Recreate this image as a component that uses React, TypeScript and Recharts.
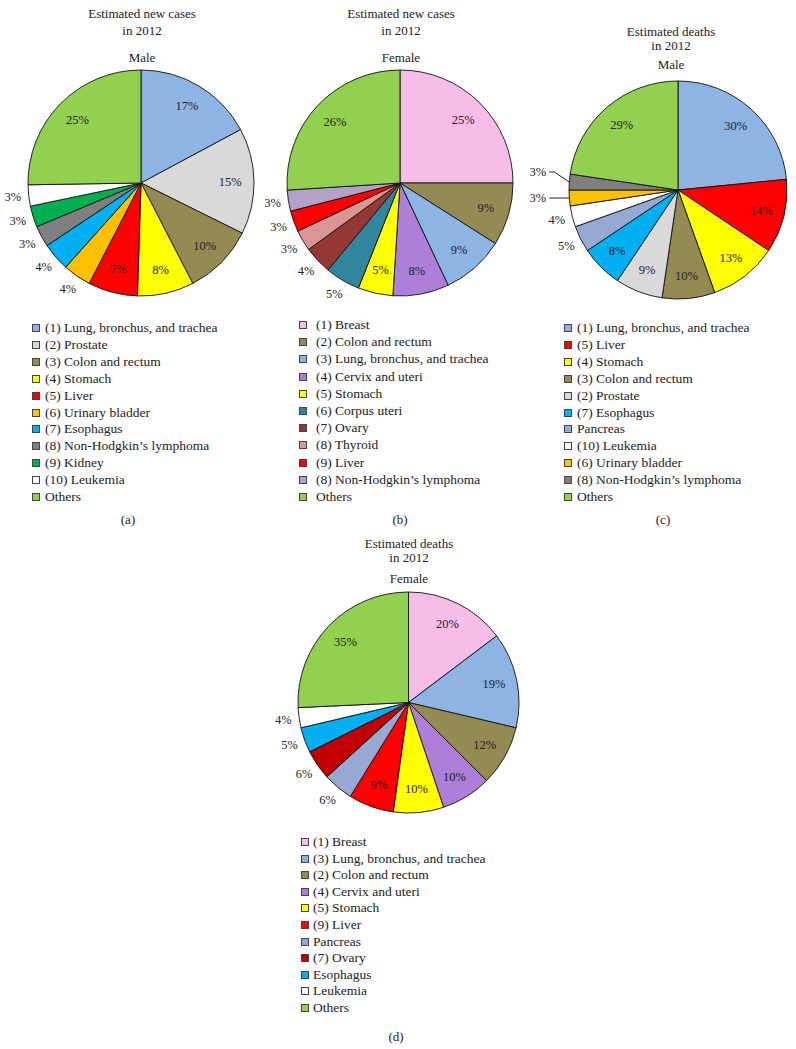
import React from 'react';
import { PieChart, Pie, Cell } from 'recharts';

const FONT = '"Liberation Serif", "DejaVu Serif", serif';

// (a) Estimated new cases in 2012, Male
const aNames = ['(1) Lung, bronchus, and trachea', '(2) Prostate', '(3) Colon and rectum', '(4) Stomach', '(5) Liver', '(6) Urinary bladder', '(7) Esophagus', '(8) Non-Hodgkin\u2019s lymphoma', '(9) Kidney', '(10) Leukemia', 'Others'];
const aValues = [17, 15, 10, 8, 7, 4, 4, 3, 3, 3, 25];
const aColors = ['#8EB4E3', '#D9D9D9', '#948A54', '#FFFF00', '#FF0000', '#FFC000', '#00B0F0', '#7F7F7F', '#00B050', '#FFFFFF', '#92D050'];

// (b) Estimated new cases in 2012, Female
const bNames = ['(1) Breast', '(2) Colon and rectum', '(3) Lung, bronchus, and trachea', '(4) Cervix and uteri', '(5) Stomach', '(6) Corpus uteri', '(7) Ovary', '(8) Thyroid', '(9) Liver', '(8) Non-Hodgkin\u2019s lymphoma', 'Others'];
const bValues = [25, 9, 9, 8, 5, 5, 4, 3, 3, 3, 26];
const bColors = ['#F6BDE8', '#948A54', '#8EB4E3', '#AD7FD8', '#FFFF00', '#31859C', '#953735', '#D99694', '#FF0000', '#B3A2C7', '#92D050'];

// (c) Estimated deaths in 2012, Male
const cNames = ['(1) Lung, bronchus, and trachea', '(5) Liver', '(4) Stomach', '(3) Colon and rectum', '(2) Prostate', '(7) Esophagus', 'Pancreas', '(10) Leukemia', '(6) Urinary bladder', '(8) Non-Hodgkin\u2019s lymphoma', 'Others'];
const cValues = [30, 14, 13, 10, 9, 8, 5, 4, 3, 3, 29];
const cColors = ['#8EB4E3', '#FF0000', '#FFFF00', '#948A54', '#D9D9D9', '#00B0F0', '#95A9D3', '#FFFFFF', '#FFC000', '#7F7F7F', '#92D050'];

// (d) Estimated deaths in 2012, Female
const dNames = ['(1) Breast', '(3) Lung, bronchus, and trachea', '(2) Colon and rectum', '(4) Cervix and uteri', '(5) Stomach', '(9) Liver', 'Pancreas', '(7) Ovary', 'Esophagus', 'Leukemia', 'Others'];
const dValues = [20, 19, 12, 10, 10, 9, 6, 6, 5, 4, 35];
const dColors = ['#F6BDE8', '#8EB4E3', '#948A54', '#AD7FD8', '#FFFF00', '#FF0000', '#95A9D3', '#C00000', '#00B0F0', '#FFFFFF', '#92D050'];

const Txt = ({ x, y, children, size = 13 }: any) => (
  <div
    style={{
      position: 'absolute',
      left: x,
      top: y,
      transform: 'translate(-50%, -50%)',
      whiteSpace: 'nowrap',
      fontFamily: FONT,
      fontSize: size,
      color: '#222',
      lineHeight: 1,
    }}
  >
    {children}
  </div>
);

const renderLabel = (props: any) => {
  const { cx, cy, midAngle, percent, value, outerRadius } = props;
  const m = (((midAngle ?? 0) % 360) + 360) % 360;
  const rad = Math.PI / 180;
  const cos = Math.cos(-m * rad);
  const sin = Math.sin(-m * rad);
  const textStyle = { fontFamily: FONT, fontSize: 12.5, fill: '#222' } as any;
  if (percent < 0.025) {
    const ex = cx + outerRadius * cos;
    const ey = cy + outerRadius * sin;
    const ly = m < 180 ? ey - 10 : ey;
    return (
      <g>
        <path d={`M${ex},${ey} L${ex - 15},${ly} L${ex - 20},${ly}`} stroke="#222" strokeWidth={1} fill="none" />
        <text x={ex - 23} y={ly} textAnchor="end" dominantBaseline="central" style={textStyle}>
          {`${value}%`}
        </text>
      </g>
    );
  }
  const outside = percent < 0.055 && m > 180 && m < 250;
  const rr = outside ? outerRadius + 16 : outerRadius * 0.79;
  const x = cx + rr * cos;
  const y = cy + rr * sin;
  return (
    <text x={x} y={y} textAnchor="middle" dominantBaseline="central" style={textStyle}>
      {`${value}%`}
    </text>
  );
};

const Panel = ({ names, values, colors, title, sub, tx, ty1, ty2, sy, chart, legend, caption }: any) => {
  const data = names.map((n: string, i: number) => ({ name: n, value: values[i] }));
  return (
    <>
      <Txt x={tx} y={ty1}>{title[0]}</Txt>
      <Txt x={tx} y={ty2}>{title[1]}</Txt>
      <Txt x={tx} y={sy}>{sub}</Txt>
      <div style={{ position: 'absolute', left: chart.left, top: chart.top }}>
        <PieChart width={chart.w} height={chart.h} margin={{ top: 0, right: 0, bottom: 0, left: 0 }}>
          <Pie
            data={data}
            dataKey="value"
            nameKey="name"
            cx={chart.cx}
            cy={chart.cy}
            outerRadius={chart.r}
            startAngle={90}
            endAngle={-270}
            stroke="#111"
            strokeWidth={0.9}
            label={renderLabel}
            labelLine={false}
            isAnimationActive={false}
          >
            {data.map((d: any, i: number) => (
              <Cell key={i} fill={colors[i]} />
            ))}
          </Pie>
        </PieChart>
      </div>
      {names.map((n: string, i: number) => {
        const y = legend.y0 + i * legend.step;
        return (
          <React.Fragment key={i}>
            <div
              style={{
                position: 'absolute',
                left: legend.sq,
                top: y - 4,
                width: 6,
                height: 6,
                border: '1px solid #444',
                background: colors[i],
              }}
            />
            <div
              style={{
                position: 'absolute',
                left: legend.tx,
                top: y,
                transform: 'translateY(-50%)',
                whiteSpace: 'nowrap',
                fontFamily: FONT,
                fontSize: 13.5,
                color: '#222',
                lineHeight: 1,
              }}
            >
              {n}
            </div>
          </React.Fragment>
        );
      })}
      <Txt x={caption[0]} y={caption[1]}>{caption[2]}</Txt>
    </>
  );
};

export default function App() {
  return (
    <div style={{ position: 'absolute', left: 0, top: 0, width: 796, height: 1049, background: '#fff', overflow: 'hidden' }}>
      <Panel
        names={aNames}
        values={aValues}
        colors={aColors}
        title={['Estimated new cases', 'in 2012']}
        sub="Male"
        tx={142}
        ty1={13}
        ty2={30}
        sy={57}
        chart={{ left: 0, top: 60, w: 265, h: 250, cx: 141, cy: 123, r: 113 }}
        legend={{ sq: 32, tx: 45, y0: 328, step: 16.9 }}
        caption={[128, 519, '(a)']}
      />
      <Panel
        names={bNames}
        values={bValues}
        colors={bColors}
        title={['Estimated new cases', 'in 2012']}
        sub="Female"
        tx={401}
        ty1={13}
        ty2={30}
        sy={57}
        chart={{ left: 265, top: 60, w: 265, h: 250, cx: 135, cy: 123, r: 113 }}
        legend={{ sq: 299, tx: 316, y0: 325, step: 17.2 }}
        caption={[400, 519, '(b)']}
      />
      <Panel
        names={cNames}
        values={cValues}
        colors={cColors}
        title={['Estimated deaths', 'in 2012']}
        sub="Male"
        tx={671}
        ty1={30.5}
        ty2={44.5}
        sy={63.5}
        chart={{ left: 525, top: 60, w: 271, h: 250, cx: 153, cy: 130, r: 109 }}
        legend={{ sq: 564, tx: 577, y0: 328, step: 16.9 }}
        caption={[663, 519, '(c)']}
      />
      <Panel
        names={dNames}
        values={dValues}
        colors={dColors}
        title={['Estimated deaths', 'in 2012']}
        sub="Female"
        tx={409}
        ty1={543}
        ty2={557}
        sy={578}
        chart={{ left: 230, top: 580, w: 330, h: 250, cx: 178.5, cy: 122.5, r: 110.5 }}
        legend={{ sq: 301, tx: 313, y0: 842, step: 16.6 }}
        caption={[396, 1036, '(d)']}
      />
    </div>
  );
}
